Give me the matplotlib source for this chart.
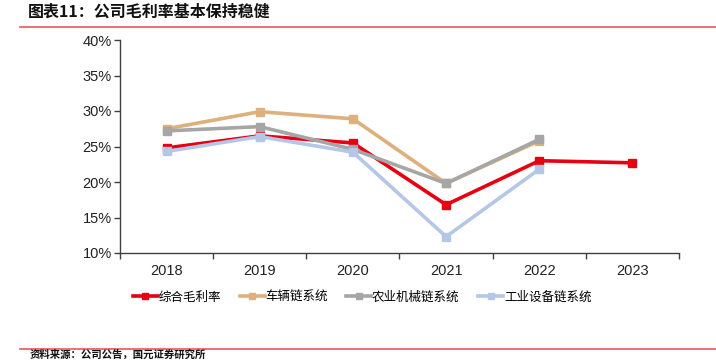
import matplotlib
matplotlib.use("Agg")
import matplotlib.pyplot as plt
from matplotlib.lines import Line2D

plt.rcParams['font.family'] = ['Liberation Sans', 'Noto Sans CJK SC', 'DejaVu Sans']

years = ['2018', '2019', '2020', '2021', '2022', '2023']
series_names = ['综合毛利率', '车辆链系统', '农业机械链系统', '工业设备链系统']
total_margin = [24.8, 26.5, 25.5, 16.8, 23.0, 22.7]
vehicle_chain = [27.5, 29.9, 28.9, 19.8, 25.8]
agri_chain = [27.2, 27.8, 24.6, 19.8, 26.0]
industrial_chain = [24.3, 26.4, 24.2, 12.3, 21.8]
yticks = [10, 15, 20, 25, 30, 35, 40]
colors = ['#E60012', '#DDB07E', '#A6A6A6', '#B4C7E7']

W, H = 716, 361
fig = plt.figure(figsize=(W / 100, H / 100), dpi=100)
ax = fig.add_axes([120 / W, 1 - 253 / H, (679 - 120) / W, (253 - 40) / H])

data = [total_margin, vehicle_chain, agri_chain, industrial_chain]
handles = []
for name, vals, c in zip(series_names, data, colors):
    xs = list(range(len(vals)))
    ax.plot(xs, vals, color=c, lw=2.6, marker='s', ms=6.2, zorder=3)
    handles.append(Line2D([0], [0], color=c, lw=2.6, marker='s', ms=5))

ax.set_xlim(-0.5, len(years) - 0.5)
ax.set_ylim(10, 40)
ax.set_yticks(yticks)
ax.set_yticklabels([f'{v}%' for v in yticks], fontsize=10.5, color='#222222')
ax.set_xticks(range(len(years)))
ax.set_xticklabels(years, fontsize=10.5, color='#222222')
ax.set_xticks([i - 0.5 for i in range(len(years) + 1)], minor=True)
ax.tick_params(axis='x', which='major', length=0, pad=8)
ax.tick_params(axis='x', which='minor', length=4, width=1, color='#404040', direction='out')
ax.tick_params(axis='y', length=4, width=1, color='#404040', direction='out', pad=2)
for s in ['top', 'right']:
    ax.spines[s].set_visible(False)
for s in ['left', 'bottom']:
    ax.spines[s].set_color('#404040')
    ax.spines[s].set_linewidth(1)

fig.legend(handles, series_names, loc='center', bbox_to_anchor=(362 / W, 1 - 297 / H),
           ncol=4, frameon=False, handlelength=2.0, handletextpad=0.05,
           columnspacing=1.5, prop={'family': ['Noto Sans CJK SC', 'DejaVu Sans'], 'size': 9})

fig.text(28 / W, 1 - 12 / H, '图表11：公司毛利率基本保持稳健', fontsize=11.5, fontweight='bold',
         family=['Noto Sans CJK SC', 'DejaVu Sans'], va='center', ha='left', color='#111111')
fig.add_artist(Line2D([20 / W, 1], [1 - 27 / H, 1 - 27 / H], color='#E8585E', lw=1.2))
fig.add_artist(Line2D([20 / W, 1], [1 - 349 / H, 1 - 349 / H], color='#E8585E', lw=1.2))
fig.text(30 / W, 1 / H, '资料来源：公司公告，国元证券研究所', fontsize=7.5, fontweight='bold',
         family=['Noto Sans CJK SC', 'DejaVu Sans'], va='bottom', ha='left', color='#111111')

fig.savefig('out.png', dpi=100)
